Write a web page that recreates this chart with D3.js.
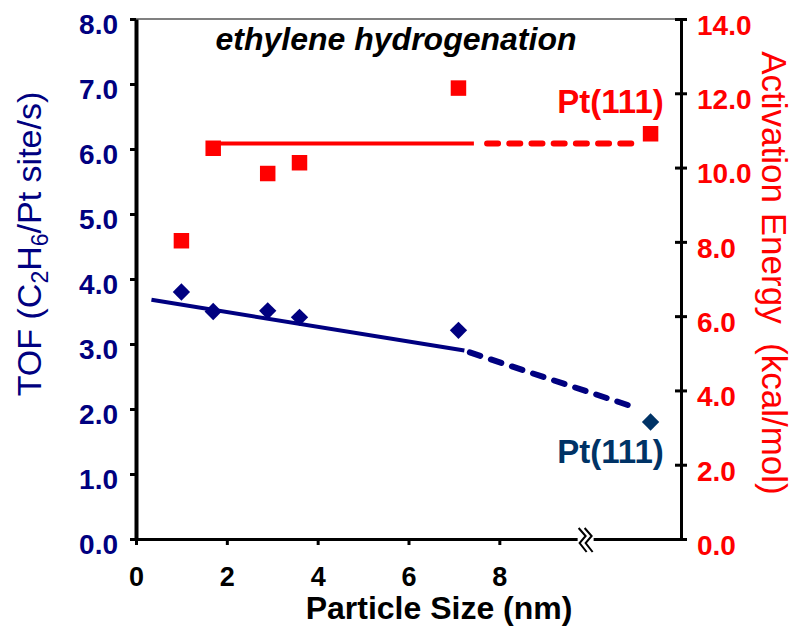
<!DOCTYPE html>
<html>
<head>
<meta charset="utf-8">
<script src="https://cdn.jsdelivr.net/npm/d3@7"></script>
<style>
  body { margin: 0; background: #fff; }
  text { font-family: "Liberation Sans", Arial, sans-serif; }
</style>
</head>
<body>
<div id="chart"></div>
<script>
// particle size (nm); the last entry is Pt(111), drawn after the axis break
const sizes = [1.0, 1.7, 2.9, 3.6, 7.1, 11.33];
const tof = [3.80, 3.50, 3.51, 3.41, 3.21, 1.80];          // left axis
const ea = [8.03, 10.52, 9.84, 10.13, 12.14, 10.91];       // right axis
const xTicks = [0, 2, 4, 6, 8];
const tofTicks = [0, 1, 2, 3, 4, 5, 6, 7, 8];
const eaTicks = [0, 2, 4, 6, 8, 10, 12, 14];
// trend lines [x, y]
const tofSolid = [[0.34, 3.68], [7.23, 2.90]];
const tofDash = [[7.35, 2.87], [10.92, 2.04]];
const eaSolid = [[1.7, 10.65], [7.44, 10.65]];
const eaDash = [[7.73, 10.65], [11.02, 10.65]];
const xBreak = 9.9;

const navy = "#000080", red = "#ff0000", dark = "#003366";
const W = 801, H = 637;
const plotL = 136, plotR = 681, plotT = 19, plotB = 539;

const svg = d3.select("#chart").append("svg")
  .attr("width", W).attr("height", H);

const x = d3.scaleLinear().domain([0, 12]).range([plotL, plotR]);
const yL = d3.scaleLinear().domain([0, 8]).range([plotB, plotT]);
const yR = d3.scaleLinear().domain([0, 14]).range([plotB, plotT]);

// top frame line
svg.append("line")
  .attr("x1", plotL).attr("x2", plotR).attr("y1", plotT).attr("y2", plotT)
  .attr("stroke", "#808080").attr("stroke-width", 2);

// x axis
const gx = svg.append("g")
  .attr("transform", `translate(0,${plotB})`)
  .call(d3.axisBottom(x).tickValues(xTicks).tickSize(6).tickSizeOuter(0).tickPadding(22));
gx.select(".domain").attr("stroke", "#000").attr("stroke-width", 3);
gx.selectAll(".tick line").attr("stroke", "#000").attr("stroke-width", 3);
gx.selectAll(".tick text")
  .attr("fill", "#000").attr("font-size", 27).attr("font-weight", "bold")
  .attr("font-family", "'Liberation Sans', Arial, sans-serif");

// axis break
const bx = x(xBreak);
svg.append("rect").attr("x", bx - 8).attr("y", plotB - 3).attr("width", 16).attr("height", 6)
  .attr("fill", "#fff");
[-3, 3].forEach(off => {
  svg.append("path")
    .attr("d", `M${bx + off - 4},${plotB - 11} L${bx + off + 3},${plotB - 3} L${bx + off - 3},${plotB + 4} L${bx + off + 4},${plotB + 13}`)
    .attr("fill", "none").attr("stroke", "#000").attr("stroke-width", 2);
});

// left axis
const gl = svg.append("g")
  .attr("transform", `translate(${plotL},0)`)
  .call(d3.axisLeft(yL).tickValues(tofTicks).tickFormat(d3.format(".1f"))
    .tickSize(6).tickSizeOuter(0).tickPadding(12));
gl.select(".domain").attr("stroke", "#000").attr("stroke-width", 4);
gl.selectAll(".tick line").attr("stroke", "#000").attr("stroke-width", 3);
gl.selectAll(".tick text")
  .attr("fill", navy).attr("font-size", 28).attr("font-weight", "bold").attr("dy", "0.5em")
  .attr("font-family", "'Liberation Sans', Arial, sans-serif");

// right axis
const gr = svg.append("g")
  .attr("transform", `translate(${plotR},0)`)
  .call(d3.axisRight(yR).tickValues(eaTicks).tickFormat(d3.format(".1f"))
    .tickSize(6).tickSizeOuter(0).tickPadding(10));
gr.select(".domain").attr("stroke", "#000").attr("stroke-width", 3);
gr.selectAll(".tick line").attr("x1", -6).attr("stroke", "#000").attr("stroke-width", 3);
gr.selectAll(".tick text")
  .attr("fill", red).attr("font-size", 28).attr("font-weight", "bold").attr("dy", "0.55em")
  .attr("font-family", "'Liberation Sans', Arial, sans-serif");

// trend lines
const lineL = d3.line().x(d => x(d[0])).y(d => yL(d[1]));
const lineR = d3.line().x(d => x(d[0])).y(d => yR(d[1]));

svg.append("path").attr("d", lineR(eaSolid))
  .attr("stroke", red).attr("stroke-width", 4).attr("fill", "none");
svg.append("path").attr("d", lineR(eaDash))
  .attr("stroke", red).attr("stroke-width", 6).attr("fill", "none")
  .attr("stroke-dasharray", "11,11.2").attr("stroke-linecap", "round");
svg.append("path").attr("d", lineL(tofSolid))
  .attr("stroke", navy).attr("stroke-width", 4).attr("fill", "none");
svg.append("path").attr("d", lineL(tofDash))
  .attr("stroke", navy).attr("stroke-width", 6).attr("fill", "none")
  .attr("stroke-dasharray", "11,11.2").attr("stroke-linecap", "round");

// markers
const square = d3.symbol(d3.symbolSquare, 240);
const diamond = d3.symbol(d3.symbolSquare, 150);

svg.selectAll(".ea").data(sizes).enter().append("path")
  .attr("class", "ea")
  .attr("d", square)
  .attr("transform", (d, i) => `translate(${x(d)},${yR(ea[i])})`)
  .attr("fill", red);

svg.selectAll(".tof").data(sizes).enter().append("path")
  .attr("class", "tof")
  .attr("d", diamond)
  .attr("transform", (d, i) => `translate(${x(d)},${yL(tof[i])}) rotate(45)`)
  .attr("fill", (d, i) => i === sizes.length - 1 ? dark : navy);

// labels
svg.append("text")
  .attr("x", x(11.62)).attr("y", yR(11.47))
  .attr("text-anchor", "end").attr("font-size", 33).attr("font-weight", "bold")
  .attr("fill", red).text("Pt(111)");
svg.append("text")
  .attr("x", x(11.62)).attr("y", yL(1.17))
  .attr("text-anchor", "end").attr("font-size", 33).attr("font-weight", "bold")
  .attr("fill", dark).text("Pt(111)");

svg.append("text")
  .attr("x", 396).attr("y", 50)
  .attr("text-anchor", "middle").attr("font-size", 32)
  .attr("font-weight", "bold").attr("font-style", "italic")
  .attr("fill", "#000").text("ethylene hydrogenation");

// x axis title
svg.append("text")
  .attr("x", 439).attr("y", 619)
  .attr("text-anchor", "middle").attr("font-size", 32).attr("font-weight", "bold")
  .attr("fill", "#000").text("Particle Size (nm)");

// left axis title
const tl = svg.append("text")
  .attr("transform", "translate(41,244) rotate(-90)")
  .attr("text-anchor", "middle").attr("font-size", 34).attr("fill", navy);
tl.append("tspan").text("TOF (C");
tl.append("tspan").attr("font-size", 23).attr("dy", 7).text("2");
tl.append("tspan").attr("dy", -7).text("H");
tl.append("tspan").attr("font-size", 23).attr("dy", 7).text("6");
tl.append("tspan").attr("dy", -7).text("/Pt site/s)");

// right axis title
svg.append("text")
  .attr("transform", "translate(762,273) rotate(90)")
  .attr("text-anchor", "middle").attr("font-size", 35).attr("fill", red)
  .attr("xml:space", "preserve")
  .text("Activation Energy  (kcal/mol)");
</script>
</body>
</html>
